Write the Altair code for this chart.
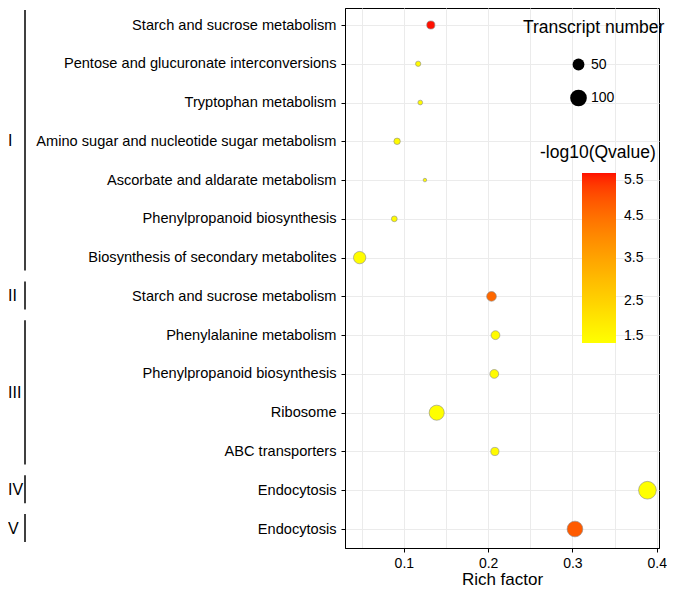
import altair as alt
import pandas as pd

pathways = [
    "Starch and sucrose metabolism",
    "Pentose and glucuronate interconversions",
    "Tryptophan metabolism",
    "Amino sugar and nucleotide sugar metabolism",
    "Ascorbate and aldarate metabolism",
    "Phenylpropanoid biosynthesis",
    "Biosynthesis of secondary metabolites",
    "Starch and sucrose metabolism",
    "Phenylalanine metabolism",
    "Phenylpropanoid biosynthesis",
    "Ribosome",
    "ABC transporters",
    "Endocytosis",
    "Endocytosis",
]
groups = ["I"] * 7 + ["II"] + ["III"] * 4 + ["IV"] + ["V"]
rich_factor = [0.132, 0.117, 0.1195, 0.092, 0.125, 0.0887, 0.0476,
               0.204, 0.2087, 0.2073, 0.139, 0.208, 0.389, 0.303]
transcripts = [24, 10, 8, 15, 4.5, 12, 55, 34, 28, 28, 82, 24, 113, 89]
neg_log10_q = [5.5, 1.6, 1.6, 1.6, 1.6, 1.6, 1.55, 4.6, 1.6, 1.6, 1.5, 1.6, 1.5, 4.8]

x_ticks = [0.05, 0.1, 0.15, 0.2, 0.25, 0.3, 0.35, 0.4]
q_ticks = [1.5, 2.5, 3.5, 4.5, 5.5]
size_ticks = [50, 100]

df = pd.DataFrame({
    "row": list(range(len(pathways))),
    "pathway": pathways,
    "rich": rich_factor,
    "n": transcripts,
    "q": neg_log10_q,
})

gnames, gstart, gend = [], [], []
for i, g in enumerate(groups):
    if not gnames or gnames[-1] != g:
        gnames.append(g)
        gstart.append(i)
        gend.append(i)
    else:
        gend[-1] = i
gdf = pd.DataFrame({"group": gnames, "start": gstart, "end": gend})

FONT = "Liberation Sans"
label_expr = "[" + ",".join("'" + p + "'" for p in pathways) + "][datum.value]"
major_test = "abs(datum.value*10 - round(datum.value*10)) < 0.001"

yscale = alt.Scale(domain=[-0.4385, 13.49], reverse=True, nice=False, zero=False)
yaxis = alt.Axis(values=list(range(len(pathways))), labelExpr=label_expr, title=None,
                 labelFontSize=14.6, tickSize=4, labelPadding=5, labelLimit=400,
                 gridColor="#EBEBEB", labelColor="black",
                 tickColor="black", domainColor="black")

points = alt.Chart(df).mark_circle(opacity=1, stroke="#8a8a8a", strokeWidth=0.6).encode(
    x=alt.X("rich:Q",
            scale=alt.Scale(domain=[0.0302, 0.4027], nice=False, zero=False),
            axis=alt.Axis(values=x_ticks, title="Rich factor", format=".1f",
                          labelExpr=major_test + " ? datum.label : ''",
                          tickOpacity={"condition": {"test": major_test, "value": 1}, "value": 0},
                          labelFontSize=14, titleFontSize=17, titleFontWeight="normal",
                          tickSize=4, labelPadding=4, titlePadding=1,
                          gridColor="#EBEBEB", labelColor="black", titleColor="black",
                          tickColor="black", domainColor="black")),
    y=alt.Y("row:Q", scale=yscale, axis=yaxis),
    size=alt.Size("n:Q", scale=alt.Scale(domain=[0, 120], range=[0, 334]),
                  legend=alt.Legend(title="Transcript number", orient="none",
                                    legendX=178, legendY=11, values=size_ticks,
                                    symbolFillColor="black", symbolStrokeWidth=0,
                                    symbolOffset=47, titleFontSize=17.5, titleFontWeight="normal",
                                    labelFontSize=14, rowPadding=18, titlePadding=21,
                                    titleColor="black", labelColor="black")),
    color=alt.Color("q:Q",
                    scale=alt.Scale(domain=[1.5, 5.5], range=["#FFFF00", "#FF1000"], interpolate="lab"),
                    legend=alt.Legend(title=None, orient="none", legendX=237, legendY=165,
                                      gradientLength=170, gradientThickness=34,
                                      values=q_ticks, format=".1f", labelFontSize=14,
                                      labelOffset=8, labelColor="black",
                                      gradientStrokeWidth=0)),
    order=alt.Order("n:Q", sort="descending"),
)

qtitle = alt.Chart(pd.DataFrame({"t": ["-log10(Qvalue)"]})).mark_text(
    align="left", baseline="middle", fontSize=17.5, font=FONT
).encode(text="t:N", x=alt.value(195), y=alt.value(145), color=alt.value("black"))

glines = alt.Chart(gdf).mark_rule(strokeWidth=1.5, yOffset=-15, y2Offset=13).encode(
    x=alt.value(-320),
    y=alt.Y("start:Q", scale=yscale, axis=yaxis),
    y2="end:Q",
    color=alt.value("black"),
)

gtext = alt.Chart(gdf).transform_calculate(mid="(datum.start + datum.end) / 2").mark_text(
    align="left", baseline="middle", fontSize=16, font=FONT
).encode(
    x=alt.value(-337),
    y=alt.Y("mid:Q", scale=yscale, axis=yaxis),
    text="group:N",
    color=alt.value("black"),
)

chart = alt.layer(points, qtitle, glines, gtext).properties(
    width=314, height=540,
    padding={"left": 0, "top": 0, "right": 0, "bottom": 0},
).configure(font=FONT).configure_view(stroke="black", strokeWidth=1)

chart.save("out.html", embed_options={"renderer": "svg", "actions": False})
